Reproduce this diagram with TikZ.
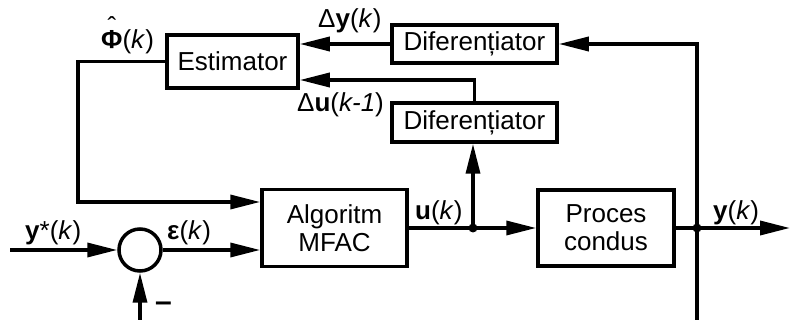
\documentclass[tikz,border=0pt]{standalone}
\usepackage{fontspec}
\setmainfont{Liberation Sans}
\usetikzlibrary{arrows.meta}

\begin{document}
\begin{tikzpicture}[x=1pt, y=-1pt, > = {Triangle[length=30pt,width=14pt]},
  block/.style = {draw, line width=3.5pt, inner sep=0pt, align=center, font=\fontsize{26}{28}\selectfont},
  sig/.style = {line width=3.5pt, ->},
  lbl/.style = {anchor=base west, inner sep=0pt, font=\fontsize{26}{28}\selectfont}]

    \useasboundingbox (0,0) rectangle (790,320);

    % blocks
    \node[block, minimum width=131pt, minimum height=53pt] (estim) at (232.5,61.5) {Estimator};
    \node[block, minimum width=165pt, minimum height=38pt] (difY) at (474.5,44) {Diferențiator};
    \node[block, minimum width=165pt, minimum height=39pt] (difU) at (474.5,122.5) {Diferențiator};
    \node[block, minimum width=145pt, minimum height=77pt] (algo) at (334.5,228) {Algoritm\\MFAC};
    \node[block, minimum width=136pt, minimum height=76pt] (proc) at (606,228) {Proces\\condus};
    \node[draw, circle, line width=3.5pt, minimum size=42pt, inner sep=0pt] (sum) at (140,250) {};

    % free ends and branch points
    \coordinate (yin) at (10,250);
    \coordinate (ybot) at (697,320);
    \coordinate (sbot) at (140,320);
    \coordinate (yout) at (790,228);
    \coordinate (uj) at (473,228);
    \coordinate (yj) at (697,228);

    % signals
    \draw[sig] (yin) -- (sum.west);
    \draw[sig] (sbot) -- (sum.south);
    \draw[sig] (sum.east) -- ([yshift=-22pt]algo.west);
    \draw[sig] (estim.west) -| (78,202) -- ([yshift=26pt]algo.west);
    \draw[sig] (algo.east) -- (proc.west);
    \draw[sig] (uj) -- (difU.south -| uj);
    \draw[sig] (proc.east) -- (yout);
    \draw[sig] (ybot) |- (difY.east);
    \draw[sig] (difY.west) -- (estim.east |- difY.west);
    \draw[sig] (difU.north) |- ([yshift=-18.5pt]estim.east);
    \fill (uj) circle (4.5pt);
    \fill (yj) circle (4.5pt);

    % labels
    \node[lbl] (lphi) at (101,49) {\ooalign{\textbf{Φ}\cr\hidewidth\raisebox{0.5em}{ˆ}\hidewidth\cr}(\textit{k})};
    \node[lbl] (ldy) at (318,28) {Δ\textbf{y}(\textit{k})};
    \node[lbl] (ldu) at (297,112) {Δ\textbf{u}(\textit{k-1})};
    \node[lbl] (lyref) at (25,240) {\textbf{y}*(\textit{k})};
    \node[lbl] (leps) at (167,240) {\textbf{ε}(\textit{k})};
    \node[lbl] (lu) at (415,220) {\textbf{u}(\textit{k})};
    \node[lbl] (ly) at (713,220) {\textbf{y}(\textit{k})};
    \node[inner sep=0pt, font=\fontsize{30}{30}\selectfont\bfseries] (lminus) at (163.5,307) {–};

\end{tikzpicture}
\end{document}
